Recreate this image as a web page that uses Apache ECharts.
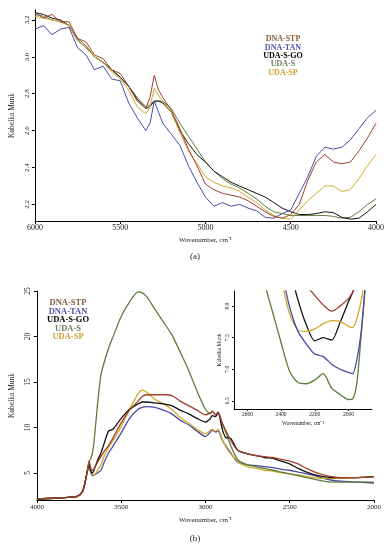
<!DOCTYPE html>
<html>
<head>
<meta charset="utf-8">
<script src="https://cdn.jsdelivr.net/npm/echarts@6/dist/echarts.min.js"></script>
<style>html,body{margin:0;padding:0;background:#fff;}#c{width:388px;height:550px;}</style>
</head>
<body>
<div id="c"></div>
<script>
// ---------- names & colours ----------
const names = ['DNA-STP', 'DNA-TAN', 'UDA-S-GO', 'UDA-S', 'UDA-SP'];
const lineColors = ['#a0412d', '#4a4aa6', '#111111', '#5c7d3b', '#d3a92c'];
const legendColors = ['#8b5a3a', '#5555ad', '#000000', '#6b7f58', '#d0a030'];

// ---------- panel (a) : 6000-4000 cm-1 ----------
const waveA = [6000,5950,5900,5850,5800,5750,5700,5650,5600,5550,5500,5450,5400,5350,5325,5300,5275,5250,5200,5150,5100,5050,5000,4950,4900,4850,4800,4750,4700,4650,4600,4550,4500,4450,4400,4350,4300,4250,4200,4150,4100,4050,4000];
const stpA = [3.24,3.21,3.23,3.19,3.19,3.10,3.08,3.01,2.99,2.93,2.91,2.84,2.76,2.72,2.78,2.90,2.82,2.78,2.71,2.61,2.50,2.41,2.31,2.28,2.26,2.25,2.24,2.22,2.19,2.16,2.135,2.125,2.145,2.20,2.33,2.43,2.47,2.43,2.42,2.43,2.49,2.56,2.64];
const tanA = [3.15,3.17,3.12,3.15,3.16,3.05,3.01,2.93,2.95,2.88,2.87,2.75,2.67,2.60,2.64,2.76,2.70,2.64,2.58,2.52,2.41,2.32,2.24,2.19,2.21,2.19,2.20,2.18,2.165,2.13,2.125,2.15,2.17,2.26,2.35,2.46,2.51,2.50,2.51,2.55,2.61,2.67,2.71];
const goA  = [3.24,3.23,3.21,3.20,3.17,3.09,3.05,3.00,2.97,2.93,2.89,2.84,2.77,2.72,2.73,2.76,2.76,2.75,2.70,2.60,2.53,2.47,2.43,2.38,2.35,2.32,2.30,2.28,2.26,2.24,2.21,2.18,2.16,2.145,2.145,2.15,2.16,2.155,2.13,2.12,2.125,2.16,2.20];
const sA   = [3.23,3.22,3.20,3.19,3.17,3.10,3.06,3.00,2.97,2.93,2.89,2.84,2.78,2.73,2.74,2.76,2.76,2.76,2.72,2.64,2.57,2.50,2.43,2.38,2.34,2.31,2.29,2.26,2.23,2.19,2.16,2.15,2.14,2.14,2.14,2.14,2.14,2.135,2.125,2.13,2.16,2.20,2.23];
const spA  = [3.22,3.21,3.20,3.19,3.17,3.09,3.05,3.00,2.97,2.92,2.88,2.82,2.73,2.69,2.73,2.83,2.79,2.76,2.70,2.59,2.49,2.42,2.35,2.32,2.30,2.29,2.27,2.24,2.21,2.17,2.14,2.125,2.12,2.17,2.22,2.26,2.30,2.30,2.27,2.28,2.34,2.41,2.47];
const yTicksA = [2.2, 2.4, 2.6, 2.8, 3.0, 3.2];

// ---------- panel (b) : 4000-2000 cm-1 ----------
const waveB = [4000,3900,3800,3760,3730,3715,3700,3690,3680,3670,3660,3640,3620,3600,3575,3550,3500,3450,3400,3375,3350,3300,3250,3200,3150,3100,3050,3000,2970,2960,2940,2925,2900,2880,2850,2820,2800,2750,2700,2650,2600,2550,2500,2450,2400,2350,2300,2250,2200,2100,2000];
const stpB = [2.15,2.22,2.35,2.42,2.95,3.9,5.3,6.3,5.5,5.3,5.5,6.2,6.8,7.4,8.0,8.8,10.5,11.9,12.9,13.4,13.6,13.6,13.6,13.5,12.9,12.4,11.9,11.4,11.6,11.8,11.4,11.6,10.5,9.7,8.6,7.7,7.4,7.1,6.9,6.8,6.7,6.5,6.3,6.0,5.5,5.1,4.8,4.6,4.5,4.5,4.6];
const tanB = [2.15,2.22,2.35,2.42,2.95,3.9,5.2,5.6,5.0,4.7,4.8,5.0,5.3,6.2,7.2,7.9,9.4,11.0,12.0,12.2,12.3,12.2,11.9,11.5,10.8,10.3,9.6,9.0,9.5,9.7,9.5,9.6,8.6,8.0,7.2,6.4,6.1,5.9,5.8,5.7,5.6,5.4,5.3,5.1,4.9,4.7,4.4,4.2,4.1,4.0,3.9];
const goB  = [2.15,2.22,2.35,2.42,2.95,3.9,5.3,6.0,5.2,5.0,5.4,6.4,7.2,8.3,9.6,9.8,11.0,12.0,12.6,12.8,12.8,12.7,12.6,12.4,11.9,11.5,11.0,10.6,11.0,11.3,11.2,11.6,9.8,8.9,8.8,7.8,7.4,7.1,6.9,6.7,6.6,6.3,6.0,5.5,5.1,4.8,4.6,4.5,4.5,4.5,4.6];
const sB   = [2.15,2.22,2.35,2.42,2.95,3.9,5.3,6.3,6.6,7.3,8.6,12.6,15.8,17.2,18.7,19.9,22.2,23.8,24.9,24.8,24.4,23.0,21.6,20.2,18.3,16.3,14.0,12.0,11.5,11.8,11.4,11.7,10.4,9.5,8.0,6.8,6.3,5.9,5.7,5.5,5.3,5.1,4.9,4.7,4.5,4.3,4.1,4.0,4.0,4.0,4.0];
const spB  = [2.15,2.22,2.35,2.42,2.95,3.9,5.2,5.5,5.1,4.8,4.8,5.3,5.9,6.9,7.8,8.5,10.1,12.0,13.7,14.1,13.9,13.1,12.6,12.0,11.1,10.5,9.8,9.3,9.7,9.8,9.6,9.8,8.7,7.9,7.1,6.5,6.1,5.7,5.5,5.3,5.2,5.0,4.9,4.8,4.6,4.5,4.4,4.4,4.4,4.5,4.6];
const yTicksB = [5, 10, 15, 20, 25];

// ---------- inset : 2680-1860 cm-1 ----------
const waveI = [2500,2450,2400,2350,2300,2250,2200,2150,2100,2050,2000,1975,1950,1925,1900];
const stpI = [null,null,null,null,null,8.33,8.17,8.02,7.92,8.00,8.12,8.22,8.35,null,null];
const tanI = [null,null,8.6,7.99,7.60,7.40,7.24,7.20,7.08,7.00,6.95,6.93,7.15,7.58,8.35];
const goI  = [null,null,null,8.6,8.10,7.70,7.45,7.50,7.46,7.74,8.07,8.22,8.5,null,null];
const sI   = [8.37,7.90,7.42,6.97,6.79,6.77,6.83,6.93,6.70,6.60,6.52,6.53,6.78,7.52,8.3];
const spI  = [null,null,8.45,7.88,7.62,7.60,7.64,7.72,7.77,7.76,7.68,7.66,7.80,8.08,8.5];
const xTicksI = [2000, 2200, 2400, 2600];
const yTicksI = [6.5, 7.0, 7.5, 8.0];

// ---------- build ----------
const FONT = 'Liberation Serif';
function mk(idx, xs, ys, ax, w, smooth) {
  return {
    name: names[idx], type: 'line', xAxisIndex: ax, yAxisIndex: ax,
    data: xs.map((x, i) => [x, ys[i]]),
    showSymbol: false, symbol: 'none', smooth: smooth, clip: true,
    connectNulls: false, animation: false,
    lineStyle: { color: lineColors[idx], width: w },
    itemStyle: { color: lineColors[idx] }
  };
}
const order = [3, 2, 4, 1, 0]; // draw order: UDA-S, UDA-S-GO, UDA-SP, DNA-TAN, DNA-STP
const setA = [stpA, tanA, goA, sA, spA];
const setB = [stpB, tanB, goB, sB, spB];
const setI = [stpI, tanI, goI, sI, spI];
const series = [];
order.forEach(i => series.push(mk(i, waveA, setA[i], 0, 1, false)));
[1, 4, 3, 2, 0].forEach(i => series.push(mk(i, waveB, setB[i], 1, 1.3, 0.25)));
order.forEach(i => series.push(mk(i, waveI, setI[i], 2, 1.3, 0.25)));

const axisLineStyle = { show: true, lineStyle: { color: '#000', width: 1 } };
const lbl = (size, extra) => Object.assign({ fontFamily: FONT, fontSize: size, color: '#222' }, extra || {});
const plain = v => String(v);

function xAx(grid, min, max, opts) {
  return Object.assign({
    type: 'value', gridIndex: grid, min: min, max: max, inverse: true,
    axisLine: Object.assign({ onZero: false }, axisLineStyle),
    splitLine: { show: false },
    nameLocation: 'middle',
    nameTextStyle: { fontFamily: FONT, color: '#222' }
  }, opts);
}
function yAx(grid, min, max, opts) {
  return Object.assign({
    type: 'value', gridIndex: grid, min: min, max: max,
    axisLine: Object.assign({ onZero: false }, axisLineStyle),
    splitLine: { show: false },
    name: 'Kubelka Munk', nameLocation: 'middle',
    nameTextStyle: { fontFamily: FONT, color: '#222' }
  }, opts);
}

const legendText = (cx, ys, size) => names.map((n, i) => ({
  type: 'text', x: cx, y: ys[i],
  style: { text: n, fill: legendColors[i], font: 'bold ' + size + 'px "' + FONT + '"', textAlign: 'center', textVerticalAlign: 'middle' }
}));

const option = {
  backgroundColor: '#fff',
  animation: false,
  grid: [
    { left: 25, right: 12, top: 10, bottom: 329 },
    { left: 27, right: 14, top: 291, bottom: 50 },
    { left: 234, right: 16, top: 291, bottom: 141 }
  ],
  xAxis: [
    xAx(0, 4000, 6000, {
      interval: 500, name: 'Wavenumber, cm⁻¹', nameGap: 16,
      nameTextStyle: { fontFamily: FONT, fontSize: 7, color: '#222' },
      axisTick: { show: true, length: 3, lineStyle: { color: '#000' } },
      axisLabel: lbl(8, { margin: 3, formatter: plain })
    }),
    xAx(1, 2000, 4000, {
      interval: 500, name: 'Wavenumber, cm⁻¹', nameGap: 17,
      nameTextStyle: { fontFamily: FONT, fontSize: 7, color: '#222' },
      axisTick: { show: true, length: 3, lineStyle: { color: '#000' } },
      axisLabel: lbl(7, { margin: 4, formatter: plain })
    }),
    xAx(2, 1860, 2680, {
      name: 'Wavenumber, cm⁻¹', nameGap: 12,
      nameTextStyle: { fontFamily: FONT, fontSize: 5.5, color: '#222' },
      axisTick: { show: true, length: 2, customValues: xTicksI, lineStyle: { color: '#000' } },
      axisLabel: lbl(5.5, { margin: 3, customValues: xTicksI, formatter: plain })
    })
  ],
  yAxis: [
    yAx(0, 2.11, 3.254, {
      nameGap: 15, nameTextStyle: { fontFamily: FONT, fontSize: 7.5, color: '#222' },
      axisTick: { show: true, length: 3, customValues: yTicksA, lineStyle: { color: '#000' } },
      axisLabel: lbl(7, { rotate: 90, margin: 4, customValues: yTicksA, formatter: v => v.toFixed(1) })
    }),
    yAx(1, 2.03, 25, {
      nameGap: 17, nameTextStyle: { fontFamily: FONT, fontSize: 7.5, color: '#222' },
      axisTick: { show: true, length: 3, customValues: yTicksB, lineStyle: { color: '#000' } },
      axisLabel: lbl(7.5, { rotate: 90, margin: 5, customValues: yTicksB, formatter: plain })
    }),
    yAx(2, 6.37, 8.24, {
      nameGap: 11, nameTextStyle: { fontFamily: FONT, fontSize: 5.5, color: '#222' },
      axisTick: { show: true, length: 2, customValues: yTicksI, lineStyle: { color: '#000' } },
      axisLabel: lbl(5.5, { rotate: 90, margin: 3, customValues: yTicksI, formatter: v => v.toFixed(1) })
    })
  ],
  graphic: [].concat(
    legendText(283, [39, 47.5, 56, 64, 72.5], 8),
    legendText(68, [303, 311.5, 320, 328.5, 337], 8.5),
    [
      { type: 'text', x: 195, y: 257, style: { text: '(a)', fill: '#222', font: '9px "' + FONT + '"', textAlign: 'center', textVerticalAlign: 'middle' } },
      { type: 'text', x: 195, y: 539, style: { text: '(b)', fill: '#222', font: '9px "' + FONT + '"', textAlign: 'center', textVerticalAlign: 'middle' } }
    ]
  ),
  series: series
};

const chart = echarts.init(document.getElementById('c'), null, { renderer: 'canvas' });
chart.setOption(option);
</script>
</body>
</html>
